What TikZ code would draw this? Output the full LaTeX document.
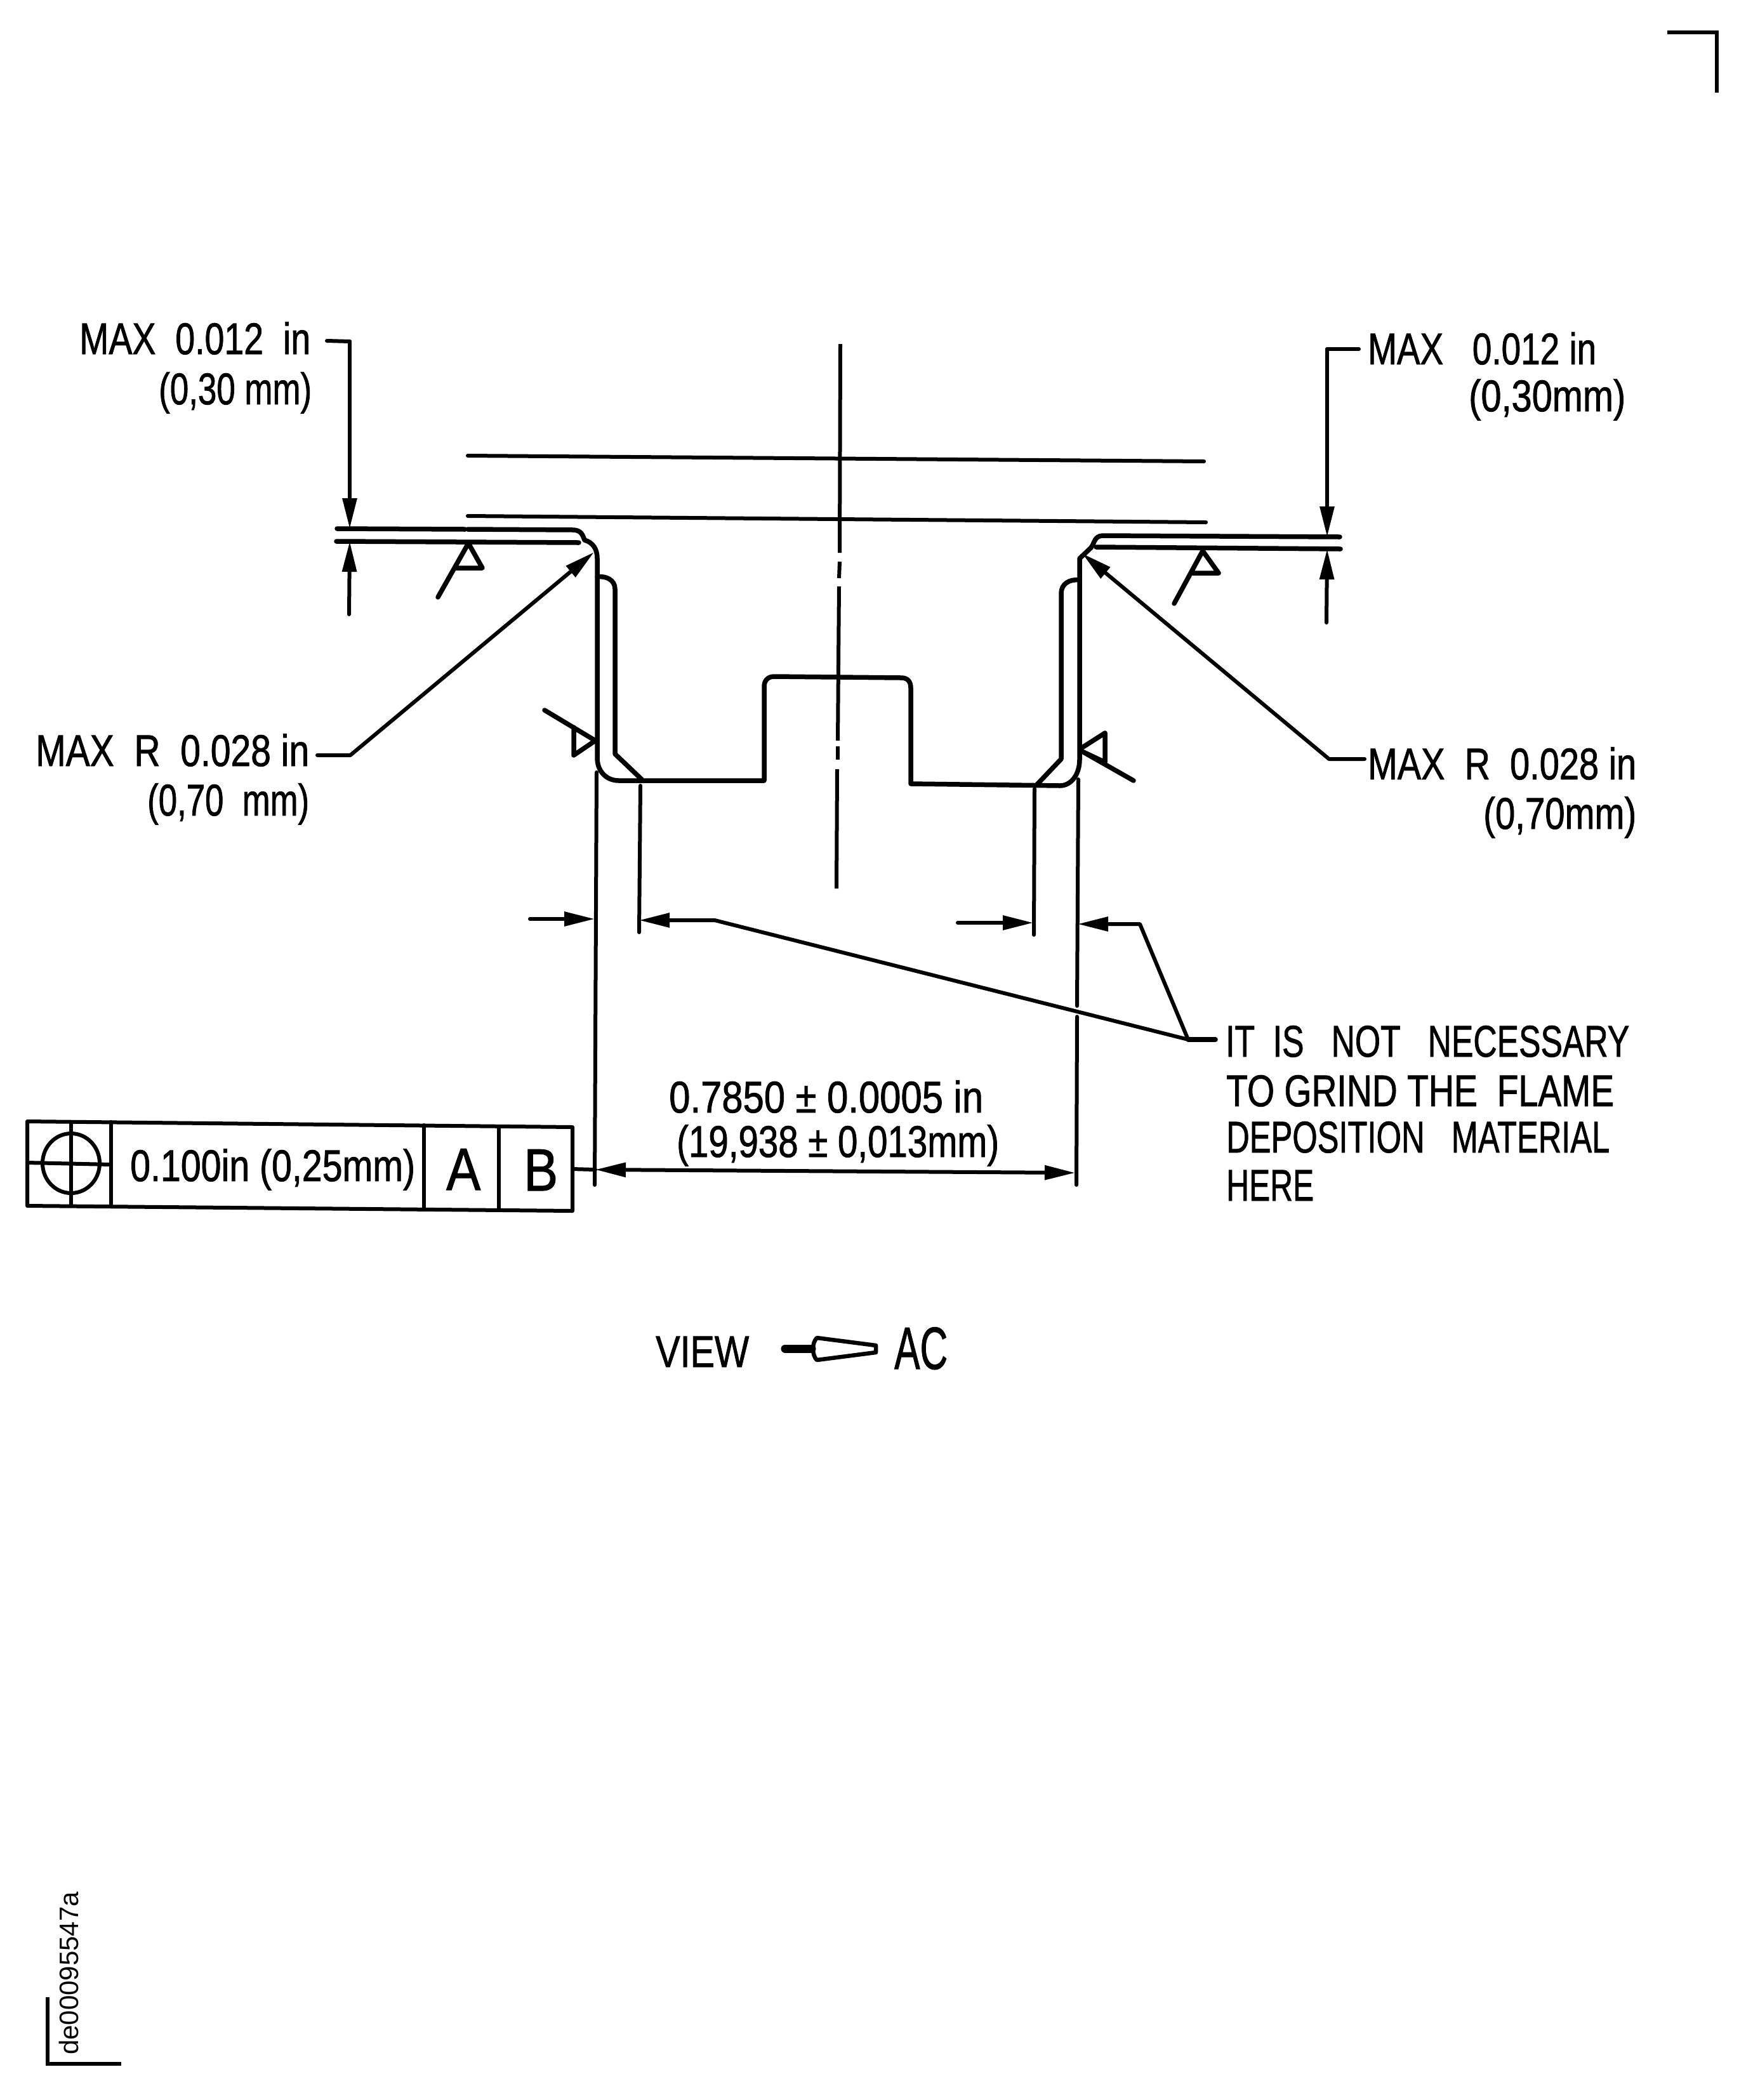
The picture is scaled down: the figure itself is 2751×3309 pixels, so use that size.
\documentclass[tikz,border=0pt]{standalone}
\usepackage{fontspec}
\setmainfont{Liberation Sans}
\newfontfamily\labelfont[FakeBold=1.3]{Liberation Sans}
\usetikzlibrary{arrows.meta}
\newcommand\fitw[2]{\resizebox{#1pt}{\height}{#2}}
\tikzset{
  heavyln/.style={line width=7.5pt,line join=round,line cap=round},
  thinln/.style={line width=6pt,line join=round,line cap=round},
  tipend/.style={-{Triangle[length=48pt,width=22pt]}},
  tipboth/.style={{Triangle[length=48pt,width=22pt]}-{Triangle[length=48pt,width=22pt]}},
  dimtext/.style={anchor=base west,inner sep=0pt,font=\labelfont\fontsize{70}{70}\selectfont},
  bigtext/.style={anchor=base west,inner sep=0pt,font=\labelfont\fontsize{94}{94}\selectfont},
  cornermark/.style={line width=5.5pt,line join=miter}
}
\begin{document}
\begin{tikzpicture}[x=1pt,y=-1pt]
\useasboundingbox (0,0) rectangle (2751,3309);
\fill[white] (0,0) rectangle (2751,3309);

% corner marks
\draw[cornermark] (2627,51) -- (2705,51) -- (2705,146);
\draw[cornermark] (75,3147) -- (75,3252) -- (191,3252);
\node[anchor=base west,inner sep=0pt,rotate=90,font=\fontsize{42}{42}\selectfont] (drawingid) at (123,3238) {de00095547a};

% upper reference lines
\draw[thinln] (737,718) -- (1897,727);
\draw[thinln] (737,813) -- (1900,823);

% centre line
\draw[thinln,line cap=butt] (1324,542) -- (1323,871);
\draw[thinln,line cap=butt] (1323,885) -- (1322,911);
\draw[thinln,line cap=butt] (1322,924) -- (1320,1167);
\draw[thinln,line cap=butt] (1320,1176) -- (1320,1197);
\draw[thinln,line cap=butt] (1319,1212) -- (1318,1400);

% part outline
\draw[heavyln] (531,833) -- (733,834);
\draw[heavyln] (737,834) -- (904,835)
  .. controls (916,836) and (918,843) .. (921,851)
  .. controls (935,855) and (941,866) .. (941,880)
  -- (941,1194)
  .. controls (941,1215) and (955,1230) .. (975,1230)
  -- (1204,1230) -- (1204,1082)
  .. controls (1204,1072) and (1210,1066) .. (1220,1066)
  -- (1420,1068)
  .. controls (1430,1068) and (1435,1074) .. (1435,1084)
  -- (1435,1235) -- (1670,1238)
  .. controls (1688,1238) and (1701,1220) .. (1701,1197)
  -- (1701,880) -- (1719,863)
  .. controls (1725,855) and (1724,845) .. (1737,844)
  -- (2111,846);
\draw[heavyln] (530,853) -- (912,855);
\draw[heavyln] (1727,862) -- (2112,865);

% deposited material
\draw[heavyln] (941,909) .. controls (955,907) and (969,914) .. (969,928)
  -- (969,1188) -- (1011,1228);
\draw[heavyln] (1701,914) .. controls (1685,912) and (1672,920) .. (1672,935)
  -- (1672,1196) -- (1634,1236);

% weld symbols
\draw[heavyln] (690,941) -- (738,856) -- (760,895) -- (718,895);
\draw[heavyln] (858,1119) -- (938,1167) -- (904,1190) -- (904,1146);
\draw[heavyln] (1850,951) -- (1895,868) -- (1920,903) -- (1879,903);
\draw[heavyln] (1786,1230) -- (1705,1184) -- (1741,1201) -- (1741,1155) -- (1705,1178);

% extension lines
\draw[thinln] (940,1217) -- (937,1867);
\draw[thinln] (1009,1238) -- (1007,1469);
\draw[thinln] (1630,1243) -- (1629,1473);
\draw[thinln] (1699,1228) -- (1697,1585);
\draw[thinln] (1697,1602) -- (1696,1867);

% named connector points
\coordinate (lefttop) at (551,538);
\coordinate (lefttopend) at (515,537);
\coordinate (lefttip1) at (551,833);
\coordinate (lefttip2) at (551,853);
\coordinate (leftlow) at (550,968);
\coordinate (righttop) at (2091,550);
\coordinate (righttopend) at (2141,550);
\coordinate (righttip1) at (2091,846);
\coordinate (righttip2) at (2091,865);
\coordinate (rightlow) at (2090,981);
\coordinate (leadLstart) at (500,1190);
\coordinate (leadLbend) at (552,1190);
\coordinate (leadLtip) at (936,870);
\coordinate (leadRstart) at (2150,1196);
\coordinate (leadRbend) at (2094,1196);
\coordinate (leadRtip) at (1705,872);
\coordinate (smallA) at (835,1448);
\coordinate (smallAtip) at (937,1448);
\coordinate (smallBtip) at (1007,1450);
\coordinate (smallBbend) at (1126,1450);
\coordinate (smallC) at (1509,1454);
\coordinate (smallCtip) at (1628,1454);
\coordinate (smallDtip) at (1698,1456);
\coordinate (smallDbend) at (1796,1456);
\coordinate (noteJoin) at (1872,1638);
\coordinate (noteEnd) at (1915,1638);
\coordinate (mainL) at (938,1843);
\coordinate (mainR) at (1694,1848);
\coordinate (frameExit) at (902,1842);

% dimension connectors
\draw[thinln] (lefttopend) -- (lefttop);
\draw[thinln,tipend] (lefttop) -- (lefttip1);
\draw[thinln,tipend] (leftlow) -- (lefttip2);
\draw[thinln] (righttopend) -- (righttop);
\draw[thinln,tipend] (righttop) -- (righttip1);
\draw[thinln,tipend] (rightlow) -- (righttip2);
\draw[thinln,tipend] (leadLstart) -- (leadLbend) -- (leadLtip);
\draw[thinln,tipend] (leadRstart) -- (leadRbend) -- (leadRtip);
\draw[thinln,tipend] (smallA) -- (smallAtip);
\draw[thinln,tipend] (smallC) -- (smallCtip);
\draw[thinln,tipend] (noteJoin) -- (smallBbend) -- (smallBtip);
\draw[thinln,tipend] (noteJoin) -- (smallDbend) -- (smallDtip);
\draw[heavyln] (noteJoin) -- (noteEnd);
\draw[thinln,tipboth] (mainL) -- (mainR);
\draw[thinln] (frameExit) -- (mainL);

% feature control frame
\draw[thinln] (43,1767) -- (902,1776) -- (902,1908) -- (43,1900) -- cycle;
\draw[thinln] (175,1768) -- (175,1901);
\draw[thinln] (668,1773) -- (668,1906);
\draw[thinln] (786,1775) -- (786,1907);
\draw[thinln] (112,1768) -- (112,1900);
\draw[thinln] (43,1832) -- (175,1835);
\draw[thinln] (112,1833) ellipse [x radius=45pt,y radius=47pt];
\node[dimtext] (fcftext) at (205,1861) {\fitw{449}{0.100in (0,25mm)}};
\node[bigtext] (datumA) at (703,1875) {\fitw{54}{A}};
\node[bigtext] (datumB) at (825,1876) {\fitw{54}{B}};

% labels
\node[dimtext] (lt1) at (125,558) {\fitw{364}{MAX\ \ 0.012\ \ in}};
\node[dimtext] (lt2) at (250,637) {\fitw{241}{(0,30 mm)}};
\node[dimtext] (rt1) at (2155,574) {\fitw{360}{MAX\ \ \ 0.012 in}};
\node[dimtext] (rt2) at (2314,648) {\fitw{247}{(0,30mm)}};
\node[dimtext] (lr1) at (56,1207) {\fitw{431}{MAX\ \ R\ \ 0.028 in}};
\node[dimtext] (lr2) at (232,1285) {\fitw{255}{(0,70\ \ mm)}};
\node[dimtext] (rr1) at (2155,1228) {\fitw{423}{MAX\ \ R\ \ 0.028 in}};
\node[dimtext] (rr2) at (2337,1306) {\fitw{241}{(0,70mm)}};
\node[dimtext] (note1) at (1931,1665) {\fitw{636}{IT\ \ IS\ \ \ NOT\ \ \ NECESSARY}};
\node[dimtext] (note2) at (1932,1743) {\fitw{611}{TO GRIND\ THE\ \ FLAME}};
\node[dimtext] (note3) at (1932,1816) {\fitw{604}{DEPOSITION\ \ \ MATERIAL}};
\node[dimtext] (note4) at (1932,1892) {\fitw{138}{HERE}};
\node[dimtext] (tol1) at (1054,1753) {\fitw{495}{0.7850 ± 0.0005\ in}};
\node[dimtext] (tol2) at (1066,1823) {\fitw{508}{(19,938 ± 0,013mm)}};

% view label
\node[dimtext] (viewlabel) at (1033,2154) {\fitw{147}{VIEW}};
\node[bigtext] (viewname) at (1409,2157) {\fitw{84}{AC}};
\draw[line width=13pt,line cap=round] (1237,2125) -- (1279,2125);
\draw[line width=6.5pt,line join=round] (1287,2108) -- (1380,2120) -- (1380,2131) -- (1287,2143)
  .. controls (1279,2135) and (1279,2116) .. (1287,2108) -- cycle;
\end{tikzpicture}
\end{document}
